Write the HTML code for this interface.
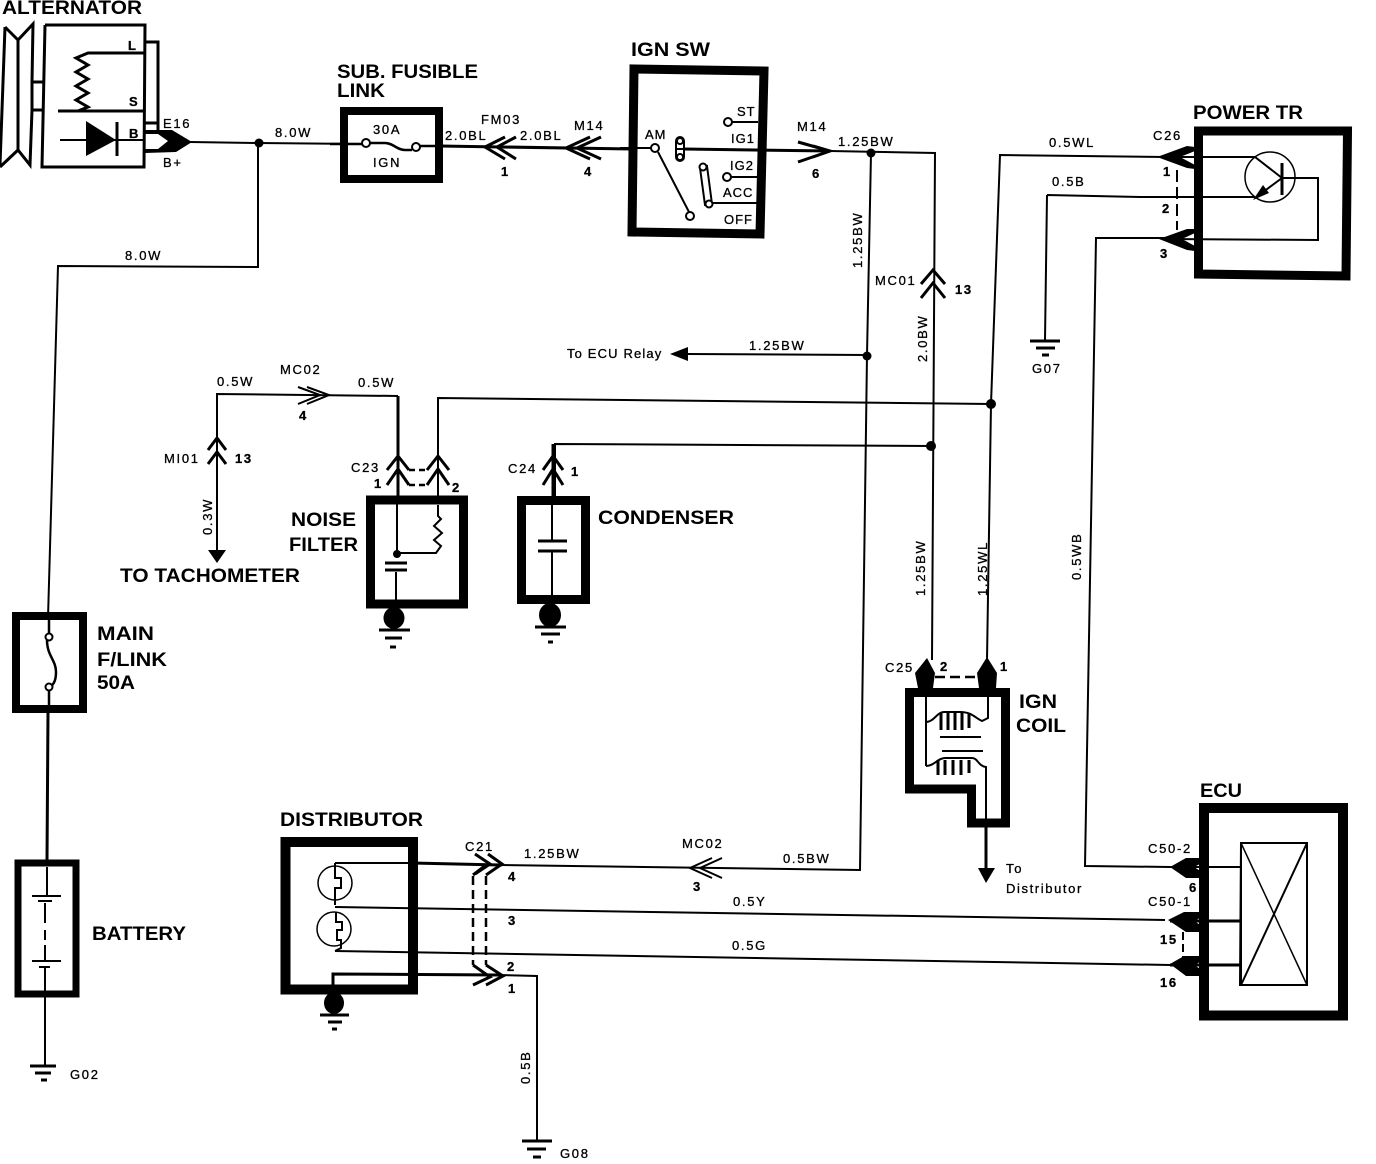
<!DOCTYPE html>
<html><head><meta charset="utf-8"><title>Ignition wiring diagram</title>
<style>
html,body{margin:0;padding:0;background:#fff}
svg{display:block}
text{font-family:"Liberation Sans",sans-serif;fill:#000;stroke:none}
.h{font-weight:bold;font-size:19px}
.s{font-size:13px;stroke:#000;stroke-width:.3px;letter-spacing:1.7px}
.w{fill:none;stroke:#000;stroke-width:2}
.t{fill:none;stroke:#000;stroke-width:3}
.n{fill:none;stroke:#000;stroke-width:1.5}
.b{fill:none;stroke:#000;stroke-linejoin:miter}
.d{fill:none;stroke:#000;stroke-width:2.5;stroke-dasharray:9 5}
.f{fill:#000;stroke:none}
.c{fill:#fff;stroke:#000;stroke-width:2}
</style></head><body>
<svg width="1376" height="1164" viewBox="0 0 1376 1164" xmlns="http://www.w3.org/2000/svg">
<rect width="1376" height="1164" fill="#fff"/>

<!-- ALTERNATOR -->
<text class="h" x="2" y="14" textLength="140" lengthAdjust="spacingAndGlyphs">ALTERNATOR</text>
<path class="t" d="M5 27L18 40L33 24L32 82H44M32 110H44M32 82V110L30 165L18 150L0 167M5 27L0 165M18 40V150"/>
<path class="t" d="M45 25H145L144 167H42L45 25"/>
<path class="t" d="M145 42H158V123H145"/>
<path class="t" d="M145 53H88L76 58L88 65L76 72L88 79L76 86L88 93L76 100L88 107L78 111"/>
<path class="t" d="M58 111H145"/>
<path class="w" d="M60 140H145"/>
<path class="f" d="M86 121V156L116 140Z"/>
<path class="t" d="M117 122V156"/>
<text class="s" x="128" y="50" font-weight="bold">L</text>
<text class="s" x="129" y="106" font-weight="bold">S</text>
<text class="s" x="129" y="138" font-weight="bold">B</text>
<path class="f" d="M145 130H172L192 142L176 152L145 153V149H158L168 141L158 134H145Z"/>
<path class="t" d="M145 123H158V130"/>
<text class="s" x="163" y="128">E16</text>
<text class="s" x="163" y="167">B+</text>

<!-- main feed -->
<path class="w" d="M190 142L258 143L363 144"/>
<circle class="f" cx="259" cy="143" r="4.5"/>
<path class="w" d="M258 143V267L58 266L48 618"/>
<text class="s" x="275" y="137">8.0W</text>
<text class="s" x="125" y="260">8.0W</text>

<!-- MAIN F/LINK -->
<rect class="b" x="16" y="616" width="67" height="93" stroke-width="8" fill="#fff"/>
<path class="t" d="M49 616V634M47 640C47 656 56 660 56 672C56 680 54 684 51 686M49 691V709" style="stroke-width:2.500"/>
<circle class="c" cx="49" cy="637" r="3.5"/><circle class="c" cx="49" cy="687" r="3.5"/>
<text class="h" x="97" y="640" textLength="57" lengthAdjust="spacingAndGlyphs">MAIN</text>
<text class="h" x="97" y="666" textLength="70" lengthAdjust="spacingAndGlyphs">F/LINK</text>
<text class="h" x="97" y="689" textLength="38" lengthAdjust="spacingAndGlyphs">50A</text>

<!-- BATTERY -->
<path class="t" d="M48 712L47 860"/>
<rect class="b" x="18" y="863" width="58" height="131" stroke-width="7" fill="#fff"/>
<path class="t" d="M47 867V895M45 903V923M45 930V940" style="stroke-width:2"/>
<path class="w" d="M45 945V960M45 968V994"/>
<path class="t" d="M32 896H61M38 901H52M32 961H61M39 967H50" style="stroke-width:2"/>
<text class="h" x="92" y="940" textLength="94" lengthAdjust="spacingAndGlyphs">BATTERY</text>
<path class="w" d="M45 993V1065"/>
<path class="t" d="M30 1066H56M35 1073H51M41 1080H47"/>
<text class="s" x="70" y="1079">G02</text>

<!-- SUB FUSIBLE LINK -->
<text class="h" x="337" y="78" textLength="141" lengthAdjust="spacingAndGlyphs">SUB. FUSIBLE</text>
<text class="h" x="337" y="97" textLength="48" lengthAdjust="spacingAndGlyphs">LINK</text>
<rect class="b" x="344" y="111" width="95" height="68" stroke-width="8" fill="#fff"/>
<path class="t" d="M330 144H363M370 143H385C393 143 397 150 405 150H412M420 146H444" style="stroke-width:2.500"/>
<path class="t" d="M440 146L632 149"/>
<circle class="c" cx="366" cy="143" r="4"/><circle class="c" cx="416" cy="147" r="4"/>
<text class="s" x="373" y="134">30A</text>
<text class="s" x="373" y="167">IGN</text>
<text class="s" x="445" y="140">2.0BL</text>
<text class="s" x="481" y="124">FM03</text>
<text class="s" x="520" y="140">2.0BL</text>
<text class="s" x="574" y="130">M14</text>
<text class="s" x="501" y="176" font-weight="bold">1</text>
<text class="s" x="584" y="176" font-weight="bold">4</text>
<path class="t" d="M505 137L485 147L505 159M516 137L497 147L516 159M590 137L566 148L590 159M601 137L577 148L601 159"/>

<!-- IGN SW -->
<text class="h" x="631" y="56" textLength="79" lengthAdjust="spacingAndGlyphs">IGN SW</text>
<path class="b" d="M634 69L764 71L760 234L632 232Z" stroke-width="9" fill="#fff"/>
<path class="w" d="M620 148H651M658 152L689 212"/>
<circle class="c" cx="655" cy="148" r="4"/><circle class="c" cx="690" cy="216" r="4"/>
<rect class="c" x="676" y="137" width="8" height="24" rx="4"/>
<path class="w" d="M676 149H684"/>
<path class="t" d="M684 149L830 151"/>
<circle class="c" cx="680" cy="141" r="3"/><circle class="c" cx="680" cy="157" r="3"/>
<path class="w" d="M732 122H758M731 177H758M713 203H758"/>
<circle class="c" cx="728" cy="122" r="4"/><circle class="c" cx="727" cy="177" r="4"/>
<path class="c" d="M700 168L705 205L712 204L707 166Z"/>
<circle class="c" cx="703" cy="167" r="3.5"/><circle class="c" cx="709" cy="204" r="3.5"/>
<text class="s" x="737" y="116" style="letter-spacing:1px">ST</text>
<text class="s" x="645" y="139" style="letter-spacing:1px">AM</text>
<text class="s" x="731" y="143" style="letter-spacing:1px">IG1</text>
<text class="s" x="730" y="170" style="letter-spacing:1px">IG2</text>
<text class="s" x="723" y="197" style="letter-spacing:1px">ACC</text>
<text class="s" x="724" y="224" style="letter-spacing:1px">OFF</text>
<text class="s" x="797" y="131">M14</text>
<text class="s" x="812" y="178" font-weight="bold">6</text>
<path class="t" d="M798 142L830 151L798 162M813 146L830 151L813 157"/>
<text class="s" x="838" y="146">1.25BW</text>

<!-- main right wires -->
<path class="w" d="M830 151L935 153L932 660"/>
<circle class="f" cx="871" cy="153" r="4.5"/>
<path class="w" d="M871 153L867 355L860 870L500 865"/>
<text class="s" transform="translate(862,268) rotate(-90)">1.25BW</text>
<text class="s" x="875" y="285">MC01</text>
<path class="t" d="M921 284L933 270L945 284M921 298L933 283L945 298"/>
<text class="s" x="955" y="294" font-weight="bold">13</text>
<text class="s" transform="translate(927,362) rotate(-90)">2.0BW</text>

<!-- To ECU Relay -->
<path class="f" d="M670 354L688 347V361Z"/>
<path class="w" d="M686 354L867 355"/>
<circle class="f" cx="867" cy="356" r="4.5"/>
<text class="s" x="567" y="358" textLength="96" lengthAdjust="spacing">To ECU Relay</text>
<text class="s" x="749" y="350">1.25BW</text>

<!-- Tachometer -->
<path class="w" d="M398 396L217 394V552"/>
<path class="f" d="M208 550H226L217 563Z"/>
<text class="s" x="217" y="386">0.5W</text>
<text class="s" x="280" y="374">MC02</text>
<text class="s" x="358" y="387">0.5W</text>
<text class="s" x="299" y="420" font-weight="bold">4</text>
<path class="t" d="M298 387L320 395L298 404M307 387L329 395L307 404" style="stroke-width:2"/>
<text class="s" x="164" y="463">MI01</text>
<text class="s" x="235" y="463" font-weight="bold">13</text>
<path class="t" d="M208 450L217 438L226 450M208 464L217 452L226 464"/>
<text class="s" transform="translate(212,535) rotate(-90)">0.3W</text>
<text class="h" x="120" y="582" textLength="180" lengthAdjust="spacingAndGlyphs">TO TACHOMETER</text>

<!-- 0.5WL etc -->
<path class="w" d="M438 500V398L991 404"/>
<path class="w" d="M1165 157L1000 155L991 404L987 660"/>
<circle class="f" cx="991" cy="404" r="5"/>
<path class="w" d="M555 500L555 444L931 446"/>
<circle class="f" cx="931" cy="446" r="5"/>
<text class="s" x="1049" y="147">0.5WL</text>

<!-- NOISE FILTER -->
<path class="t" d="M398 396V496"/>
<path class="t" d="M387 470L398 456L409 470M387 485L398 469L409 485M427 470L438 456L449 470M427 485L438 469L449 485"/>
<path class="d" d="M409 470H427M409 485H427" style="stroke-dasharray:6 4"/>
<text class="s" x="351" y="472">C23</text>
<text class="s" x="374" y="488" font-weight="bold">1</text>
<text class="s" x="452" y="492" font-weight="bold">2</text>
<rect class="b" x="370.5" y="500" width="93" height="104" stroke-width="9" fill="#fff"/>
<path class="w" d="M397 500V553M396 572V600M396 553H436L441 546L434 540L442 533L434 526L441 519L438 516V505"/>
<circle class="f" cx="397" cy="554" r="4"/>
<path class="t" d="M385 563H407M385 570H407"/>
<text class="h" x="291" y="526" textLength="65" lengthAdjust="spacingAndGlyphs">NOISE</text>
<text class="h" x="289" y="551" textLength="69" lengthAdjust="spacingAndGlyphs">FILTER</text>
<ellipse class="f" cx="394" cy="618" rx="10.5" ry="11"/>
<path class="t" d="M379 630H410M385 638H402M390 647H396"/>

<!-- CONDENSER -->
<path class="t" d="M553 444V496"/>
<path class="t" d="M543 470L553 456L563 470M543 485L553 469L563 485"/>
<text class="s" x="508" y="473">C24</text>
<text class="s" x="571" y="476" font-weight="bold">1</text>
<rect class="b" x="521.5" y="500.5" width="64" height="99" stroke-width="9" fill="#fff"/>
<path class="w" d="M552 505V541M552 552V596"/>
<path class="t" d="M538 541H567M538 551H567"/>
<text class="h" x="598" y="524" textLength="136" lengthAdjust="spacingAndGlyphs">CONDENSER</text>
<ellipse class="f" cx="550" cy="615" rx="11" ry="12"/>
<path class="t" d="M535 627H566M541 634H560M548 642H553"/>

<!-- POWER TR -->
<text class="h" x="1193" y="119" textLength="110" lengthAdjust="spacingAndGlyphs">POWER TR</text>
<path class="b" d="M1198.500 131H1347.500L1346 276L1198.500 274Z" stroke-width="9" fill="#fff"/>
<circle class="n" cx="1270" cy="177" r="25"/>
<path class="w" d="M1165 157H1255L1282 178"/>
<path class="t" d="M1282 163V195"/>
<path class="w" d="M1282 178H1318V240L1165 239"/>
<path class="w" d="M1282 178L1255 198"/>
<path class="f" d="M1253 200L1263 185L1269 193Z"/>
<path class="w" d="M1047 195L1045 340M1047 195L1140 197H1255"/>
<path class="t" d="M1030 341H1060M1036 348H1055M1042 355H1049"/>
<text class="s" x="1032" y="373">G07</text>
<text class="s" x="1052" y="186">0.5B</text>
<path class="w" d="M1165 238H1096L1085 866L1170 867"/>
<text class="s" transform="translate(1081,580) rotate(-90)">0.5WB</text>
<path class="f" d="M1157 157L1187 146L1195 147V151L1180 157L1195 165V169L1187 168Z"/>
<path class="f" d="M1159 239L1187 229L1195 229V233L1182 239L1195 246V251L1187 250Z"/>
<path class="d" d="M1177 170V230" style="stroke-width:2;stroke-dasharray:12 5"/>
<text class="s" x="1153" y="140">C26</text>
<text class="s" x="1163" y="176" font-weight="bold">1</text>
<text class="s" x="1162" y="213" font-weight="bold">2</text>
<text class="s" x="1160" y="258" font-weight="bold">3</text>

<!-- IGN COIL -->
<text class="s" transform="translate(925,596) rotate(-90)">1.25BW</text>
<text class="s" transform="translate(987,596) rotate(-90)">1.25WL</text>
<path class="b" d="M909.500 692.500H1005.500V823H971.500V789H909.500Z" stroke-width="9" fill="#fff"/>
<path class="f" d="M927 658L935 673L933 688H918L915 673ZM987 657L997 673L996 688H979L977 673Z"/>
<path class="d" d="M935 677H977" style="stroke-dasharray:10 5"/>
<path class="w" d="M926 660V766"/>
<path class="w" d="M988 660V718L982 721C975 718 972 712 960 712H944C937 712 934 722 926 722"/>
<path class="w" d="M941 713V730M948 713V730M955 713V730M962 713V730M969 713V728" style="stroke-width:3"/>
<path class="t" d="M940 737H981M942 751H983" style="stroke-width:2"/>
<path class="w" d="M926 766C934 766 938 758 945 758H972C978 758 978 766 986 767V870"/>
<path class="w" d="M938 760V775M945 760V775M953 760V775M961 760V775M969 760V773" style="stroke-width:3"/>
<path class="t" d="M986 823V870"/>
<path class="f" d="M978 868H995L986 883Z"/>
<text class="s" x="885" y="672">C25</text>
<text class="s" x="940" y="671" font-weight="bold">2</text>
<text class="s" x="1000" y="671" font-weight="bold">1</text>
<text class="h" x="1019" y="708" textLength="38" lengthAdjust="spacingAndGlyphs">IGN</text>
<text class="h" x="1016" y="732" textLength="50" lengthAdjust="spacingAndGlyphs">COIL</text>
<text class="s" x="1006" y="873">To</text>
<text class="s" x="1006" y="893" textLength="77" lengthAdjust="spacing">Distributor</text>

<!-- DISTRIBUTOR -->
<text class="h" x="280" y="826" textLength="143" lengthAdjust="spacingAndGlyphs">DISTRIBUTOR</text>
<rect class="b" x="285.500" y="842" width="127.500" height="147.500" stroke-width="10" fill="#fff"/>
<circle class="n" cx="335" cy="883" r="17"/>
<circle class="n" cx="334" cy="929" r="17"/>
<path class="w" d="M335 863V878H341V888H335V905M336 912V922H342V930H337V940H341V948L335 951" />
<path class="w" d="M335 863H412"/>
<path class="t" d="M412 863L500 865L502 865"/>
<path class="w" d="M335 907L1165 920"/>
<path class="w" d="M335 951L1170 965" />
<path class="t" d="M333 988V974L500 975"/>
<path class="w" d="M500 975L537 976V1140"/>
<path class="t" d="M475 854L490 864L475 874M488 854L502 864L486 875"/>
<path class="t" d="M473 875L486 865M473 985L490 977L473 965M486 985L503 976L486 965"/>
<path class="d" d="M473 876V965M486 876V965"/>
<text class="s" x="465" y="851">C21</text>
<text class="s" x="524" y="858">1.25BW</text>
<text class="s" x="508" y="881" font-weight="bold">4</text>
<text class="s" x="508" y="925" font-weight="bold">3</text>
<text class="s" x="507" y="971" font-weight="bold">2</text>
<text class="s" x="508" y="993" font-weight="bold">1</text>
<text class="s" x="682" y="848">MC02</text>
<path class="t" d="M712 858L690 868L712 878M722 858L700 868L722 878" style="stroke-width:2"/>
<text class="s" x="693" y="891" font-weight="bold">3</text>
<text class="s" x="783" y="863">0.5BW</text>
<text class="s" x="733" y="906">0.5Y</text>
<text class="s" x="732" y="950">0.5G</text>
<ellipse class="f" cx="334" cy="1003" rx="10" ry="11"/>
<path class="t" d="M320 1015H349M328 1022H342M332 1029H337"/>
<text class="s" transform="translate(530,1084) rotate(-90)">0.5B</text>
<path class="t" d="M522 1141H552M527 1149H546M533 1157H541"/>
<text class="s" x="560" y="1158">G08</text>

<!-- ECU -->
<text class="h" x="1200" y="797" textLength="42" lengthAdjust="spacingAndGlyphs">ECU</text>
<rect class="b" x="1204" y="808" width="139" height="207.500" stroke-width="10" fill="#fff"/>
<path class="t" d="M1241 843H1307V985H1240Z" style="stroke-width:2"/>
<path class="t" d="M1241 843V985" style="stroke-width:2"/>
<path class="n" d="M1241 843L1307 985"/>
<path class="w" d="M1241 985L1307 843"/>
<path class="w" d="M1170 867H1241"/>
<path class="t" d="M1170 921H1241M1170 965H1241"/>
<path class="f" d="M1170 867L1186 858H1202V863L1194 867L1202 872V878H1186Z"/>
<path class="f" d="M1168 920L1184 912H1202V917L1194 921L1202 926V932H1186Z"/>
<path class="f" d="M1170 964L1184 956H1202V961L1194 965L1202 970V976H1186Z"/>
<path class="d" d="M1183 932V957" style="stroke-width:2;stroke-dasharray:8 4"/>
<text class="s" x="1148" y="853">C50-2</text>
<text class="s" x="1189" y="892" font-weight="bold">6</text>
<text class="s" x="1148" y="906">C50-1</text>
<text class="s" x="1160" y="944" font-weight="bold">15</text>
<text class="s" x="1160" y="987" font-weight="bold">16</text>
</svg>
</body></html>
